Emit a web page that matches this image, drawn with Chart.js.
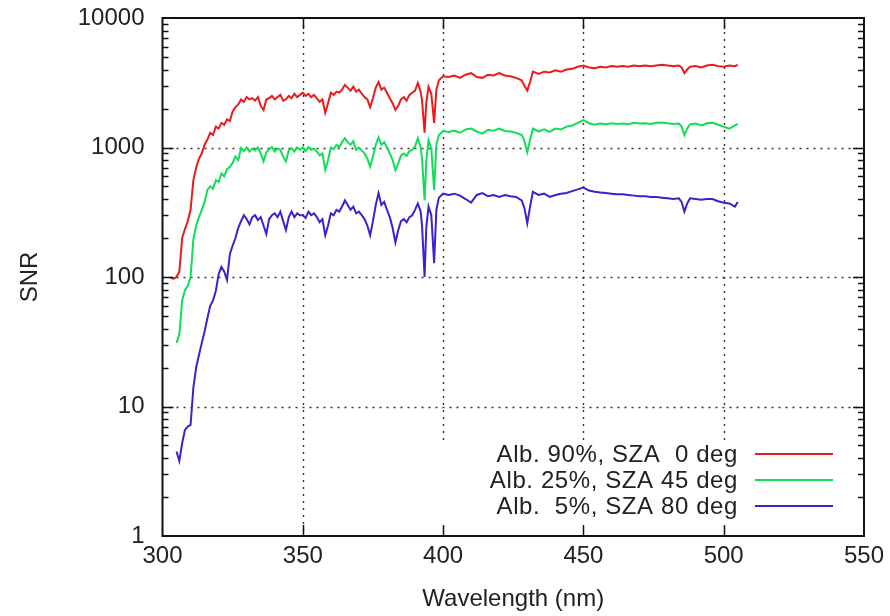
<!DOCTYPE html>
<html>
<head>
<meta charset="utf-8">
<script src="https://cdn.jsdelivr.net/npm/chart.js@4.4.1/dist/chart.umd.min.js"></script>
<style>
  html, body { margin: 0; padding: 0; background: #fff; }
  #wrap { width: 890px; height: 616px; }
</style>
</head>
<body>
<div id="wrap"><canvas id="c" width="890" height="616"></canvas></div>
<script>
// Wavelength (nm)
const wavelength = [
  303,304,305,306,307,308,309,310,311,312,
  313,314,315,316,317,318,319,320,321,322,
  323,324,325,326,327,328,329,330,331,332,
  333,334,335,336,337,338,339,340,341,342,
  343,344,345,346,347,348,349,350,351,352,
  353,354,355,356,357,358,359,360,361,362,
  363,364,365,366,367,368,369,370,371,372,
  373,374,375,376,377,378,379,380,381,382,
  383,384,385,386,387,388,389,390,391,392,
  392.5,393.4,394,394.8,395.8,396.8,397.6,398.5,
  400,402,404,406,408,410,412,414,416,418,420,422,424,426,428,
  429,430,431,
  432,434,436,438,440,442,444,446,448,450,
  452,454,456,458,460,462,464,466,468,470,
  472,474,476,478,480,482,484,
  485,486,487,
  488,490,492,494,496,498,500,502,504,
  505
];

// Alb. 90%, SZA 0 deg
const snrAlb90 = [
  98,97,100,110,200,235,270,330,560,700,
  820,900,1050,1150,1300,1250,1450,1400,1550,1500,
  1650,1600,1900,2050,2150,2350,2250,2450,2350,2400,
  2300,2450,2100,1950,2350,2400,2500,2350,2450,2550,
  2300,2350,2500,2400,2600,2450,2550,2650,2500,2600,
  2450,2550,2400,2250,2350,1850,2200,2650,2550,2700,
  2650,2800,3050,2900,2750,2950,2700,2800,2600,2450,
  2350,2050,2400,2900,3200,2800,2900,2650,2400,2200,
  1950,2100,2350,2450,2300,2550,2650,2750,3150,2700,
  2300,1300,2200,2950,2600,1550,2800,3300,
  3550,3500,3600,3450,3650,3750,3500,3450,3650,3600,3750,3600,3550,3450,3300,
  3000,2750,3200,
  3850,3700,3850,3800,3950,3850,4000,4050,4200,4300,
  4150,4100,4200,4150,4250,4200,4250,4200,4300,4250,
  4300,4250,4300,4350,4300,4250,4300,
  4150,3750,4000,
  4200,4250,4150,4300,4350,4250,4200,4300,4250,
  4350
];

// Alb. 25%, SZA 45 deg
const snrAlb25 = [
  null,null,31,36,66,79,85,100,195,250,
  290,330,380,470,500,480,560,540,630,600,
  680,710,760,850,800,990,940,1000,930,980,
  950,1000,900,780,920,970,1010,930,980,960,
  850,780,950,990,930,1000,960,1000,940,1010,
  960,980,930,870,900,670,800,1000,970,1050,
  1000,1100,1180,1100,1050,1120,960,1000,950,900,
  820,710,850,1050,1200,1050,1100,1000,900,800,
  670,750,870,900,860,940,960,1020,1180,1000,
  820,390,780,1140,980,470,1050,1250,
  1340,1320,1350,1300,1380,1400,1330,1280,1370,1350,1400,1340,1330,1300,1250,
  1120,920,1150,
  1400,1330,1380,1320,1400,1380,1450,1480,1550,1630,
  1540,1500,1530,1510,1540,1520,1530,1510,1550,1530,
  1540,1520,1550,1560,1540,1520,1530,
  1450,1250,1400,
  1510,1530,1480,1540,1550,1500,1450,1400,1480,
  1520
];

// Alb. 5%, SZA 80 deg
const snrAlb5 = [
  null,null,4.5,3.8,5.2,6.6,7,7.2,14,20,
  25,31,38,48,60,66,78,105,120,110,
  95,150,175,200,240,270,300,280,255,290,
  300,275,290,250,215,280,300,310,290,320,
  270,230,290,320,290,310,300,300,285,320,
  300,310,290,265,280,210,250,310,300,330,
  320,350,390,360,330,350,310,320,300,280,
  250,210,270,360,445,360,380,330,290,240,
  185,230,270,280,265,290,300,330,370,320,
  250,100,240,350,300,128,330,410,
  440,430,440,425,400,375,430,445,420,430,415,430,420,415,390,
  340,260,350,
  455,430,440,415,430,440,445,460,475,490,
  465,455,450,445,440,435,435,430,425,420,
  420,415,415,410,405,400,405,
  380,320,370,
  405,400,395,400,400,385,375,370,350,
  380
];

const seriesLabels = ['Alb. 90%, SZA  0 deg', 'Alb. 25%, SZA 45 deg', 'Alb.  5%, SZA 80 deg'];
const seriesColors = ['#ec1a1a', '#10de58', '#3a22cc'];
const xTickValues = [300, 350, 400, 450, 500, 550];
const yTickValues = [1, 10, 100, 1000, 10000];
const xGridValues = [350, 400, 450, 500];
const yGridValues = [10, 100, 1000];
const yMinorValues = [2,3,4,5,6,7,8,9,20,30,40,50,60,70,80,90,200,300,400,500,600,700,800,900,2000,3000,4000,5000,6000,7000,8000,9000];

const FONT = { family: '"Liberation Sans", Arial, Helvetica, sans-serif', size: 24 };
const TEXT_COLOR = '#222';

function toPoints(values) {
  return wavelength.map((w, i) => ({ x: w, y: values[i] }));
}

const framePlugin = {
  id: 'frame',
  beforeDatasetsDraw(chart) {
    const { ctx, chartArea: a, scales: { x, y } } = chart;
    ctx.save();
    ctx.strokeStyle = '#333';
    ctx.lineWidth = 1.4;
    ctx.setLineDash([2, 5]);
    for (const v of xGridValues) {
      const px = Math.round(x.getPixelForValue(v)) + 0.5;
      ctx.beginPath(); ctx.moveTo(px, a.top); ctx.lineTo(px, a.bottom); ctx.stroke();
    }
    for (const v of yGridValues) {
      const py = Math.round(y.getPixelForValue(v)) + 0.5;
      ctx.beginPath(); ctx.moveTo(a.left, py); ctx.lineTo(a.right, py); ctx.stroke();
    }
    ctx.restore();
  },
  afterDatasetsDraw(chart) {
    const { ctx, chartArea: a, scales: { x, y } } = chart;
    ctx.save();
    // legend (opaque key box)
    const boxL = x.getPixelForValue(396), boxR = a.right - 2;
    const boxT = 440, boxB = a.bottom - 2;
    ctx.fillStyle = '#fff';
    ctx.fillRect(boxL, boxT, boxR - boxL, boxB - boxT);
    ctx.font = `${FONT.size}px ${FONT.family}`;
    ctx.fillStyle = TEXT_COLOR;
    ctx.textAlign = 'right';
    ctx.textBaseline = 'middle';
    try { ctx.letterSpacing = '0.6px'; } catch (e) {}
    const rowY = [455, 481, 507];
    const textRight = 738, lineL = 755, lineR = 833;
    chart.data.datasets.forEach((ds, i) => {
      ctx.fillText(ds.label, textRight, rowY[i]);
      ctx.strokeStyle = ds.borderColor;
      ctx.lineWidth = 2;
      ctx.beginPath(); ctx.moveTo(lineL, rowY[i] - 1); ctx.lineTo(lineR, rowY[i] - 1); ctx.stroke();
    });
    try { ctx.letterSpacing = '0px'; } catch (e) {}
    // border
    ctx.strokeStyle = '#111';
    ctx.lineWidth = 2;
    ctx.strokeRect(a.left, a.top, a.right - a.left, a.bottom - a.top);
    // ticks
    ctx.lineWidth = 1.5;
    const tick = (x1, y1, x2, y2) => { ctx.beginPath(); ctx.moveTo(x1, y1); ctx.lineTo(x2, y2); ctx.stroke(); };
    for (const v of xGridValues) {
      const px = Math.round(x.getPixelForValue(v)) + 0.5;
      tick(px, a.bottom, px, a.bottom - 11);
      tick(px, a.top, px, a.top + 11);
    }
    for (const v of yGridValues) {
      const py = Math.round(y.getPixelForValue(v)) + 0.5;
      tick(a.left, py, a.left + 11, py);
      tick(a.right, py, a.right - 11, py);
    }
    for (const v of yMinorValues) {
      const py = Math.round(y.getPixelForValue(v)) + 0.5;
      tick(a.left, py, a.left + 6, py);
      tick(a.right, py, a.right - 6, py);
    }
    ctx.restore();
  }
};

new Chart(document.getElementById('c'), {
  type: 'line',
  data: {
    datasets: [snrAlb90, snrAlb25, snrAlb5].map((vals, i) => ({
      label: seriesLabels[i],
      data: toPoints(vals),
      borderColor: seriesColors[i],
      borderWidth: 2,
      pointRadius: 0,
      tension: 0,
      fill: false,
      spanGaps: false
    }))
  },
  options: {
    responsive: false,
    animation: false,
    events: [],
    layout: { padding: { top: 18, right: 26, left: 0, bottom: 0 } },
    plugins: { legend: { display: false }, tooltip: { enabled: false } },
    scales: {
      x: {
        type: 'linear', min: 300, max: 550,
        afterBuildTicks: s => { s.ticks = xTickValues.map(v => ({ value: v })); },
        afterFit: s => { s.height = 80; s.paddingLeft = 0; s.paddingRight = 0; },
        grid: { display: false, drawTicks: false },
        border: { display: false },
        ticks: { font: FONT, color: TEXT_COLOR, padding: 6, maxRotation: 0, autoSkip: false,
                 callback: v => String(v) },
        title: { display: true, text: 'Wavelength (nm)', font: FONT, color: TEXT_COLOR,
                 padding: { top: 0, bottom: 2 } }
      },
      y: {
        type: 'logarithmic', min: 1, max: 10000,
        afterBuildTicks: s => { s.ticks = yTickValues.map(v => ({ value: v })); },
        afterFit: s => { s.width = 162.5; s.paddingTop = 0; s.paddingBottom = 0; },
        grid: { display: false, drawTicks: false },
        border: { display: false },
        ticks: { font: FONT, color: TEXT_COLOR, padding: 18, autoSkip: false,
                 callback: v => String(v) },
        title: { display: true, text: 'SNR', font: FONT, color: TEXT_COLOR,
                 padding: { top: 16, bottom: 0 } }
      }
    }
  },
  plugins: [framePlugin]
});
</script>
</body>
</html>
